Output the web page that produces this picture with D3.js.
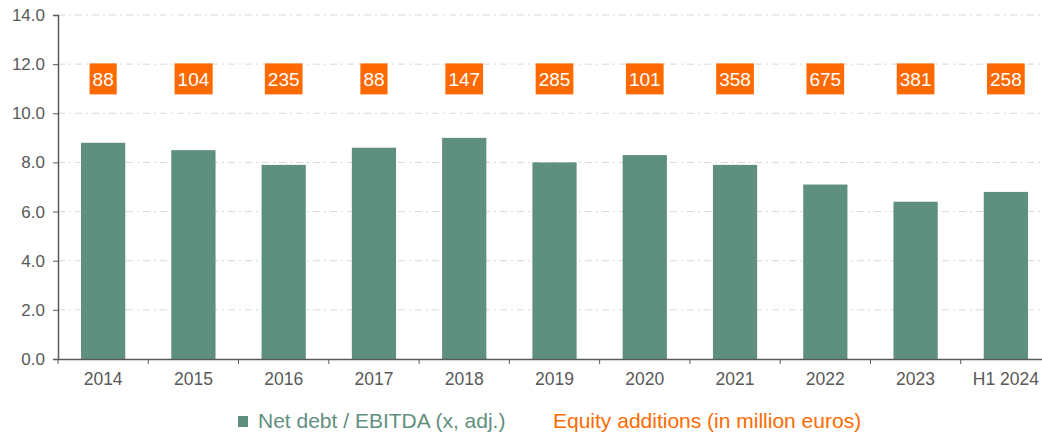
<!DOCTYPE html>
<html>
<head>
<meta charset="utf-8">
<script src="https://cdn.jsdelivr.net/npm/d3@7"></script>
<style>
  body { margin: 0; background: #fff; font-family: "Liberation Sans", Arial, sans-serif; }
</style>
</head>
<body>
<div id="chart-area"></div>
<script>
const years = ["2014", "2015", "2016", "2017", "2018", "2019", "2020", "2021", "2022", "2023", "H1 2024"]
const netDebtEbitda = [8.8, 8.5, 7.9, 8.6, 9.0, 8.0, 8.3, 7.9, 7.1, 6.4, 6.8]
const equityAdditions = [88, 104, 235, 88, 147, 285, 101, 358, 675, 381, 258]
const yTicks = [0, 2, 4, 6, 8, 10, 12, 14]

const MARGIN = { LEFT: 58, RIGHT: -9, TOP: 15, BOTTOM: 75 }
const W = 1042, H = 434
const WIDTH = W - MARGIN.LEFT - MARGIN.RIGHT
const HEIGHT = H - MARGIN.TOP - MARGIN.BOTTOM

const GREEN = "#5f8f7e"
const ORANGE = "#ff6a00"
const TEXT = "#595959"

const svg = d3.select("#chart-area").append("svg")
  .attr("width", W)
  .attr("height", H)

const g = svg.append("g")
  .attr("transform", `translate(${MARGIN.LEFT}, ${MARGIN.TOP})`)

const x = d3.scaleBand().domain(years).range([0, WIDTH]).paddingInner(0.51).paddingOuter(0.255)
const y = d3.scaleLinear().domain([0, 14]).range([HEIGHT, 0])

// gridlines
g.selectAll(".grid").data(yTicks.filter(t => t > 0))
  .enter().append("line")
  .attr("x1", 0).attr("x2", WIDTH)
  .attr("y1", d => y(d)).attr("y2", d => y(d))
  .attr("stroke", "#d9d9d9")
  .attr("stroke-width", 1)
  .attr("stroke-dasharray", "7,4,2,4")

// bars
g.selectAll(".bar").data(netDebtEbitda)
  .enter().append("rect")
  .attr("x", (d, i) => x(years[i]))
  .attr("width", x.bandwidth())
  .attr("y", d => y(d))
  .attr("height", d => HEIGHT - y(d))
  .attr("fill", GREEN)

// y axis
const yAxis = g.append("g")
  .call(d3.axisLeft(y).tickValues(yTicks).tickFormat(d3.format(".1f")).tickSizeOuter(0).tickSize(5).tickPadding(8))
yAxis.select(".domain").attr("stroke", "#595959").attr("stroke-width", 1.5)
yAxis.selectAll(".tick line").attr("stroke", "#595959")
yAxis.selectAll("text").attr("fill", TEXT).style("font-size", "17px").style("font-family", "Liberation Sans, Arial, sans-serif")

// x axis
const xAxis = g.append("g")
  .attr("transform", `translate(0, ${HEIGHT})`)
  .call(d3.axisBottom(x).tickSize(0).tickPadding(14))
xAxis.select(".domain").attr("stroke", "#595959").attr("stroke-width", 1.5)
xAxis.selectAll("text").attr("fill", TEXT).style("font-size", "17.5px").style("font-family", "Liberation Sans, Arial, sans-serif")

// ticks between categories
const step = x.step()
g.selectAll(".xtick").data(d3.range(years.length + 1))
  .enter().append("line")
  .attr("x1", i => i * step).attr("x2", i => i * step)
  .attr("y1", HEIGHT).attr("y2", HEIGHT + 5)
  .attr("stroke", "#595959")

// equity addition labels
const labels = g.selectAll(".eq").data(equityAdditions)
  .enter().append("g")
  .attr("transform", (d, i) => `translate(${x(years[i]) + x.bandwidth() / 2}, ${y(11.4)})`)

labels.append("text")
  .attr("text-anchor", "middle")
  .attr("dy", "0.36em")
  .attr("fill", "#fff")
  .style("font-size", "19px")
  .text(d => d)

labels.each(function() {
  const gg = d3.select(this)
  const bb = gg.select("text").node().getBBox()
  gg.insert("rect", "text")
    .attr("x", bb.x - 3)
    .attr("width", bb.width + 6)
    .attr("y", -15.5)
    .attr("height", 31)
    .attr("fill", ORANGE)
})

// legend
const legend = svg.append("g").attr("transform", "translate(238, 421)")
legend.append("rect")
  .attr("x", 0).attr("y", -5)
  .attr("width", 10).attr("height", 11)
  .attr("fill", GREEN)
legend.append("text")
  .attr("x", 20).attr("dy", "0.35em")
  .attr("fill", GREEN)
  .style("font-size", "21px")
  .text("Net debt / EBITDA (x, adj.)")
legend.append("text")
  .attr("x", 315).attr("dy", "0.35em")
  .attr("fill", ORANGE)
  .style("font-size", "21px")
  .text("Equity additions (in million euros)")
</script>
</body>
</html>
